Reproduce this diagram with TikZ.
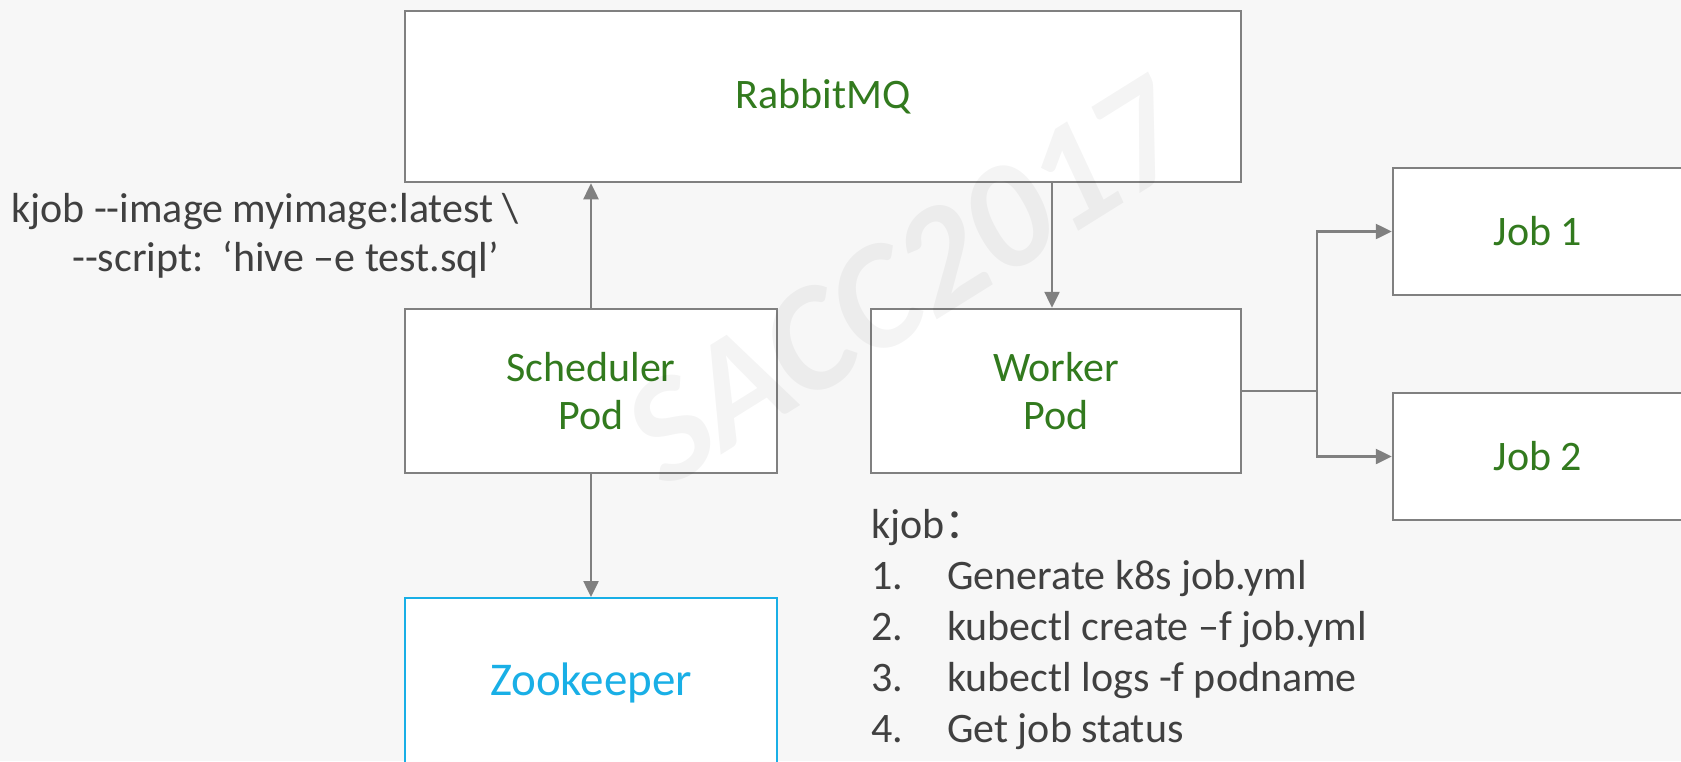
\documentclass[tikz,border=0pt]{standalone}
\usepackage{fontspec}
\setmainfont{Carlito}[Ligatures=TeXOff]
\newfontfamily\cjk{Noto Sans CJK SC}
\usetikzlibrary{arrows.meta}
\definecolor{bg}{HTML}{F7F7F7}
\definecolor{ln}{HTML}{808080}
\definecolor{gr}{RGB}{50,122,30}
\definecolor{zb}{RGB}{25,175,230}
\definecolor{tx}{HTML}{404040}
\begin{document}
\begin{tikzpicture}[x=1pt,y=-1pt,
  box/.style={draw=ln, line width=2.5pt, fill=white, inner sep=0pt, text=gr,
    font=\fontsize{42}{48}\selectfont, align=center},
  arr/.style={draw=ln, line width=2.5pt, -{Triangle[length=16pt,width=15pt]}},
  plain/.style={draw=ln, line width=2.5pt},
  lbl/.style={text=tx, font=\fontsize{42}{48}\selectfont, inner sep=0pt, anchor=base west}]
\useasboundingbox (0,0) rectangle (1681,761);
\clip (0,0) rectangle (1681,761);
\fill[bg] (0,0) rectangle (1681,761);

\node[box, minimum width=836pt, minimum height=171pt] (rabbit) at (823,96.5) {RabbitMQ};
\node[box, minimum width=372pt, minimum height=164pt] (sched) at (591,391) {Scheduler\\Pod};
\node[box, minimum width=370pt, minimum height=164pt] (worker) at (1056,391) {Worker\\Pod};
\node[box, draw=zb, line width=2pt, text=zb, font=\fontsize{47}{54}\selectfont,
      minimum width=372pt, minimum height=170pt] (zoo) at (591,683) {Zookeeper};
\node[box, minimum width=290pt, minimum height=127pt] (job1) at (1538,231.5) {Job 1};
\node[box, minimum width=290pt, minimum height=127pt] (job2) at (1538,456.5) {Job 2};

\draw[arr] (sched.north) -- (sched.north |- rabbit.south);
\draw[arr] ([xshift=-4pt]rabbit.south -| worker.north) -- ([xshift=-4pt]worker.north);
\draw[arr] (sched.south) -- (zoo.north);
\coordinate (jn) at (1317,391);
\draw[plain] (worker.east) -- (jn);
\draw[arr] (jn) |- (job1.west);
\draw[arr] (jn) |- (job2.west);

\node[lbl] (cmd1) at (11,222) {kjob --image myimage:latest \textbackslash};
\node[lbl] (cmd2) at (72,271) {--script:\ \ ‘hive –e test.sql’};

\node[lbl] (kj) at (871,538) {kjob{\cjk ：}};
\node[lbl] (n1) at (871,589) {1.};
\node[lbl] (t1) at (947,589) {Generate k8s job.yml};
\node[lbl] (n2) at (871,640) {2.};
\node[lbl] (t2) at (947,640) {kubectl create –f job.yml};
\node[lbl] (n3) at (871,691) {3.};
\node[lbl] (t3) at (947,691) {kubectl logs -f podname};
\node[lbl] (n4) at (871,742) {4.};
\node[lbl] (t4) at (947,742) {Get job status};

\node[text=black, text opacity=0.045, rotate=32, inner sep=0pt,
      font=\fontsize{152}{154}\selectfont\bfseries\itshape] (wm) at (905,282) {SACC2017};
\end{tikzpicture}
\end{document}
